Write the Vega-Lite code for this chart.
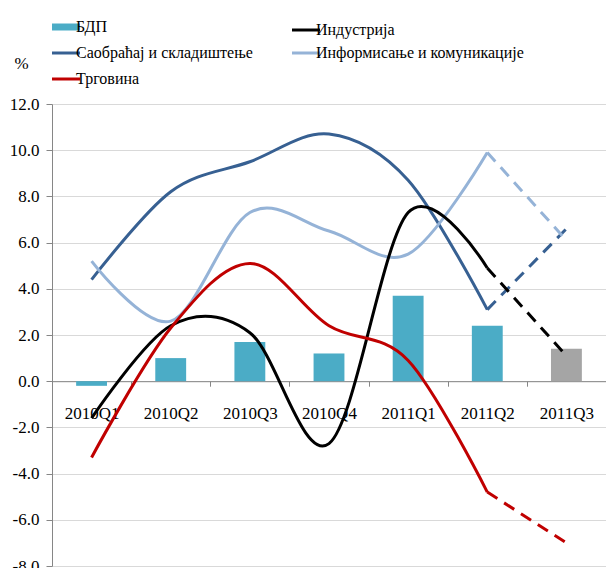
{
  "$schema": "https://vega.github.io/schema/vega-lite/v6.json",
  "width": 554,
  "height": 462,
  "autosize": {"type": "none"},
  "padding": {"left": 52, "top": 104, "right": 0, "bottom": 2},
  "background": "white",
  "config": {
    "view": {"stroke": null},
    "font": "Times New Roman, Liberation Serif, serif",
    "axis": {"labelFont": "Times New Roman, Liberation Serif, serif", "titleFont": "Times New Roman, Liberation Serif, serif", "labelColor": "#000000", "titleColor": "#000000"},
    "legend": {"labelFont": "Times New Roman, Liberation Serif, serif"}
  },
  "data": {
    "values": [
      {"quarter": "2010Q1", "series": "БДП", "value": -0.2},
      {"quarter": "2010Q2", "series": "БДП", "value": 1.0},
      {"quarter": "2010Q3", "series": "БДП", "value": 1.7},
      {"quarter": "2010Q4", "series": "БДП", "value": 1.2},
      {"quarter": "2011Q1", "series": "БДП", "value": 3.7},
      {"quarter": "2011Q2", "series": "БДП", "value": 2.4},
      {"quarter": "2011Q3", "series": "БДП", "value": 1.4},
      {"quarter": "2010Q1", "series": "Саобраћај и складиштење", "value": 4.4},
      {"quarter": "2010Q2", "series": "Саобраћај и складиштење", "value": 8.2},
      {"quarter": "2010Q3", "series": "Саобраћај и складиштење", "value": 9.5},
      {"quarter": "2010Q4", "series": "Саобраћај и складиштење", "value": 10.7},
      {"quarter": "2011Q1", "series": "Саобраћај и складиштење", "value": 8.7},
      {"quarter": "2011Q2", "series": "Саобраћај и складиштење", "value": 3.1},
      {"quarter": "2011Q3", "series": "Саобраћај и складиштење", "value": 6.6},
      {"quarter": "2010Q1", "series": "Информисање и комуникације", "value": 5.2},
      {"quarter": "2010Q2", "series": "Информисање и комуникације", "value": 2.6},
      {"quarter": "2010Q3", "series": "Информисање и комуникације", "value": 7.3},
      {"quarter": "2010Q4", "series": "Информисање и комуникације", "value": 6.5},
      {"quarter": "2011Q1", "series": "Информисање и комуникације", "value": 5.5},
      {"quarter": "2011Q2", "series": "Информисање и комуникације", "value": 9.9},
      {"quarter": "2011Q3", "series": "Информисање и комуникације", "value": 6.1},
      {"quarter": "2010Q1", "series": "Индустрија", "value": -1.6},
      {"quarter": "2010Q2", "series": "Индустрија", "value": 2.4},
      {"quarter": "2010Q3", "series": "Индустрија", "value": 2.1},
      {"quarter": "2010Q4", "series": "Индустрија", "value": -2.7},
      {"quarter": "2011Q1", "series": "Индустрија", "value": 7.3},
      {"quarter": "2011Q2", "series": "Индустрија", "value": 4.9},
      {"quarter": "2011Q3", "series": "Индустрија", "value": 1.1},
      {"quarter": "2010Q1", "series": "Трговина", "value": -3.3},
      {"quarter": "2010Q2", "series": "Трговина", "value": 2.3},
      {"quarter": "2010Q3", "series": "Трговина", "value": 5.1},
      {"quarter": "2010Q4", "series": "Трговина", "value": 2.4},
      {"quarter": "2011Q1", "series": "Трговина", "value": 0.9},
      {"quarter": "2011Q2", "series": "Трговина", "value": -4.8},
      {"quarter": "2011Q3", "series": "Трговина", "value": -7.0}
    ]
  },
  "encoding": {
    "x": {
      "field": "quarter", "type": "ordinal", "sort": null,
      "scale": {"paddingInner": 0, "paddingOuter": 0},
      "axis": {
        "title": null, "labelAngle": 0, "offset": -184.8, "tickBand": "extent",
        "tickSize": 5, "labelPadding": 19, "labelFontSize": 17,
        "domainColor": "#868686", "tickColor": "#868686", "grid": false
      }
    },
    "y": {
      "field": "value", "type": "quantitative",
      "scale": {"domain": [-8, 12], "nice": false, "zero": false},
      "axis": {
        "values": [-8, -6, -4, -2, 0, 2, 4, 6, 8, 10, 12],
        "labelExpr": "(datum.value < 0 ? '-' : '') + format(abs(datum.value), '.1f')",
        "title": "%", "titleAngle": 0, "titleX": -31, "titleY": -41,
        "titleAlign": "center", "titleBaseline": "middle", "titleFontWeight": "normal", "titleFontSize": 17,
        "grid": true, "gridColor": "#D9D9D9", "domainColor": "#868686", "tickColor": "#868686",
        "tickSize": 6, "labelPadding": 7, "labelFontSize": 17
      }
    }
  },
  "layer": [
    {
      "transform": [{"filter": "datum.series === 'БДП'"}],
      "mark": {"type": "bar", "width": {"band": 0.39}},
      "encoding": {
        "color": {
          "condition": {"test": "datum.quarter === '2011Q3'", "value": "#A5A5A5"},
          "field": "series", "type": "nominal",
          "scale": {
            "domain": ["БДП", "Саобраћај и складиштење", "Трговина", "Индустрија", "Информисање и комуникације"],
            "range": ["#4BACC6", "#376092", "#C00000", "#000000", "#95B3D7"]
          },
          "legend": {
            "orient": "none", "legendX": 6, "legendY": -85, "columns": 2, "gridAlign": "all",
            "columnPadding": 2, "rowPadding": 4, "title": null, "padding": 0,
            "symbolType": "stroke", "symbolSize": 784, "symbolStrokeWidth": 3,
            "labelFontSize": 16, "labelColor": "#000000", "labelOffset": 2, "labelLimit": 400,
            "encode": {
              "symbols": {
                "update": {
                  "strokeWidth": {"signal": "datum.value === 'БДП' ? 7 : 3"},
                  "stroke": {"scale": "color", "field": "value"},
                  "strokeDash": {"value": []}
                }
              }
            }
          }
        }
      }
    },
    {
      "transform": [{"filter": "datum.series !== 'БДП' && datum.quarter !== '2011Q3'"}],
      "mark": {"type": "line", "interpolate": "cardinal", "strokeWidth": 3},
      "encoding": {"color": {"field": "series", "type": "nominal"}}
    },
    {
      "transform": [{"filter": "datum.series !== 'БДП' && (datum.quarter === '2011Q2' || datum.quarter === '2011Q3')"}],
      "mark": {"type": "line", "strokeWidth": 3, "strokeDash": [12, 8]},
      "encoding": {"color": {"field": "series", "type": "nominal"}}
    }
  ]
}
